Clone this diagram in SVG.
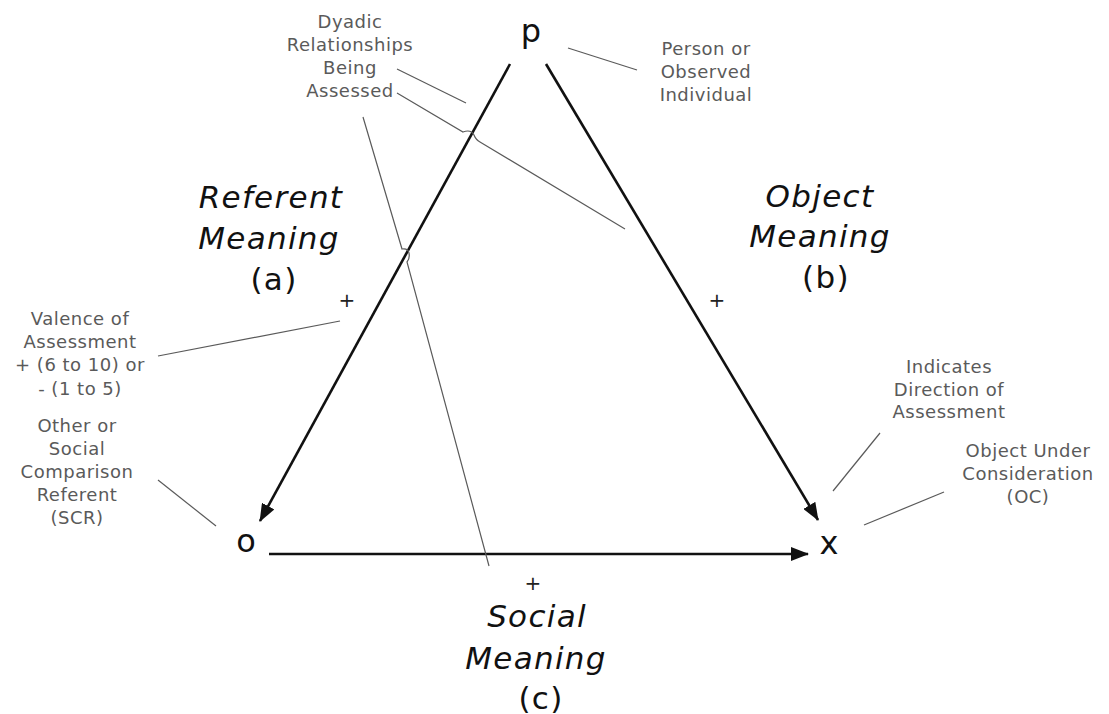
<svg xmlns="http://www.w3.org/2000/svg" width="1109" height="714" viewBox="0 0 1109 714">
<style>
.node{font-family:"DejaVu Sans",Verdana,sans-serif;font-size:32px;fill:#111;text-anchor:middle}
.big{font-family:"DejaVu Sans",Verdana,sans-serif;font-size:31px;font-style:italic;fill:#111;text-anchor:middle;letter-spacing:1.3px}
.paren{font-family:"DejaVu Sans",Verdana,sans-serif;font-size:31px;fill:#111;text-anchor:middle;letter-spacing:1.3px}
.note{font-family:"DejaVu Sans",Verdana,sans-serif;font-size:18px;fill:#5a5a5a;text-anchor:middle;letter-spacing:0.5px}
.plus{font-family:"DejaVu Sans",Verdana,sans-serif;font-size:20px;fill:#222;text-anchor:middle}
.main{stroke:#111;stroke-width:2.6;fill:none}
.lead{stroke:#5a5a5a;stroke-width:1.2;fill:none}
</style>
<defs>
<marker id="ah" markerUnits="userSpaceOnUse" markerWidth="18" markerHeight="14" refX="17" refY="7" orient="auto">
<path d="M0,0 L18,7 L0,14 z" fill="#111"/>
</marker>
</defs>
<rect width="1109" height="714" fill="#fff"/>
<g id="connectors">
<line class="main" x1="510" y1="64" x2="260" y2="521" marker-end="url(#ah)"/>
<line class="main" x1="546" y1="64" x2="818" y2="520" marker-end="url(#ah)"/>
<line class="main" x1="269" y1="554" x2="808" y2="554" marker-end="url(#ah)"/>
</g>
<g id="leaders">
<line class="lead" x1="397" y1="69" x2="466" y2="103"/>
<path class="lead" d="M397,93 L463,132 Q471,129 474,135 Q476,140 480,142 L625,229"/>
<path class="lead" d="M363,117 L402,249 Q408,248 409,253 Q410,259 407,262 L489,566"/>
<line class="lead" x1="568" y1="48" x2="637" y2="70"/>
<line class="lead" x1="340" y1="321" x2="158" y2="356"/>
<line class="lead" x1="158" y1="480" x2="216" y2="526"/>
<line class="lead" x1="880" y1="433" x2="833" y2="491"/>
<line class="lead" x1="944" y1="492" x2="864" y2="525"/>
</g>
<g id="node-p"><text class="node" x="531" y="42">p</text></g>
<g id="node-o"><text class="node" x="246" y="552">o</text></g>
<g id="node-x"><text class="node" x="829" y="554">x</text></g>
<g id="label-a">
<text class="big" x="271" y="208">Referent</text>
<text class="big" x="269" y="249">Meaning</text>
<text class="paren" x="274" y="290">(a)</text>
</g>
<g id="label-b">
<text class="big" x="820" y="207">Object</text>
<text class="big" x="820" y="247">Meaning</text>
<text class="paren" x="826" y="288">(b)</text>
</g>
<g id="label-c">
<text class="big" x="537" y="627">Social</text>
<text class="big" x="536" y="669">Meaning</text>
<text class="paren" x="541" y="709">(c)</text>
</g>
<g id="plus-signs">
<text class="plus" x="347" y="307">+</text>
<text class="plus" x="717" y="307">+</text>
<text class="plus" x="533" y="590">+</text>
</g>
<g id="note-dyadic">
<text class="note" x="350" y="28">Dyadic</text>
<text class="note" x="350" y="51">Relationships</text>
<text class="note" x="350" y="74">Being</text>
<text class="note" x="350" y="97">Assessed</text>
</g>
<g id="note-person">
<text class="note" x="706" y="55">Person or</text>
<text class="note" x="706" y="78">Observed</text>
<text class="note" x="706" y="101">Individual</text>
</g>
<g id="note-valence">
<text class="note" x="80" y="325">Valence of</text>
<text class="note" x="80" y="348">Assessment</text>
<text class="note" x="80" y="371">+ (6 to 10) or</text>
<text class="note" x="80" y="395">- (1 to 5)</text>
</g>
<g id="note-scr">
<text class="note" x="77" y="432">Other or</text>
<text class="note" x="77" y="455">Social</text>
<text class="note" x="77" y="478">Comparison</text>
<text class="note" x="77" y="501">Referent</text>
<text class="note" x="77" y="524">(SCR)</text>
</g>
<g id="note-direction">
<text class="note" x="949" y="373">Indicates</text>
<text class="note" x="949" y="396">Direction of</text>
<text class="note" x="949" y="418">Assessment</text>
</g>
<g id="note-oc">
<text class="note" x="1028" y="457">Object Under</text>
<text class="note" x="1028" y="480">Consideration</text>
<text class="note" x="1028" y="503">(OC)</text>
</g>
</svg>
